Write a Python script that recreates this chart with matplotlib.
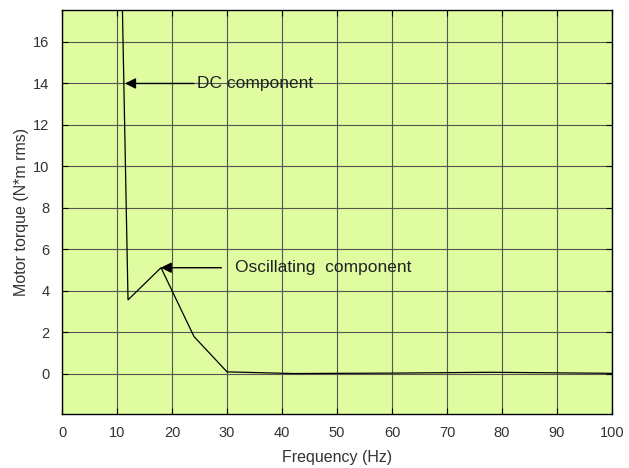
import matplotlib.pyplot as plt
import numpy as np

plt.rcParams['font.family'] = ['Liberation Sans', 'DejaVu Sans']

freq = [6, 12, 18, 24, 30, 42, 60, 78, 100]
torque = [86.0, 3.57, 5.12, 1.8, 0.1, 0.02, 0.04, 0.08, 0.03]

xticks = np.arange(0, 101, 10)
yticks = np.arange(0, 17, 2)

fig = plt.figure(figsize=(6.29, 4.68), dpi=100)
ax = fig.add_axes([0.0986, 0.1154, 0.8744, 0.8632])
ax.set_facecolor('#dffca0')

ax.plot(freq, torque, color='black', lw=0.9)

ax.set_xlim(0, 100)
ax.set_ylim(-1.93, 17.54)
ax.set_xticks(xticks)
ax.set_yticks(yticks)
ax.grid(True, color='#555555', lw=0.8)
ax.tick_params(direction='in', top=True, right=True, labelsize=10.5,
               labelcolor='#333333', length=4, pad=9)
for s in ax.spines.values():
    s.set_linewidth(1.0)

ax.set_xlabel('Frequency (Hz)', fontsize=11.5, color='#333333', labelpad=7)
ax.set_ylabel('Motor torque (N*m rms)', fontsize=11.5, color='#333333', labelpad=3)

arrow = dict(arrowstyle='-|>', color='black', lw=1.0, mutation_scale=16,
             shrinkA=0, shrinkB=0)
ax.annotate('DC component', xy=(11.45, 14), xytext=(24.5, 14),
            fontsize=12.5, color='#222222', va='center', ha='left',
            arrowprops=arrow)
ax.annotate('Oscillating  component', xy=(17.95, 5.12), xytext=(31.5, 5.12),
            fontsize=12.5, color='#222222', va='center', ha='left',
            arrowprops=dict(arrow, shrinkA=8))

fig.savefig('out.png', dpi=100)
